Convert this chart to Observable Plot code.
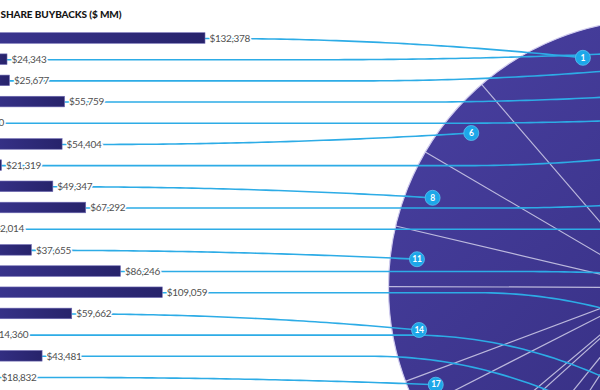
<!DOCTYPE html>
<html><head><meta charset="utf-8">
<script src="https://cdn.jsdelivr.net/npm/d3@7"></script>
<script src="https://cdn.jsdelivr.net/npm/@observablehq/plot@0.6"></script>
<style>
html,body{margin:0;padding:0;background:#fff;overflow:hidden;width:600px;height:390px;}
#chart svg{display:block;}
#chart text{paint-order:stroke;}
</style></head><body><div id="chart"></div>
<script>
// ---- data ----
const title = "SHARE BUYBACKS ($ MM)";
const ranks = [1,2,3,4,5,6,7,8,9,10,11,12,13,14,15,16,17];
const buybacks = [132378, 24343, 25677, 55759, 4100, 54404, 21319, 49347, 67292, 12014, 37655, 86246, 109059, 59662, 14360, 43481, 18832];
// companies listed below the cropped area: only their pie slices are visible
const otherBuybacks = [37500, 5800, 26000, 17300, 46000, 44000, 45000];
// pie order, clockwise from the top
const pieOrder = ["r2","r3","r4","r5","r7","r9","r10","r12","r13","r15","r16",
                  "o7","o6","o5","o4","o3","o2","o1",
                  "r17","r14","r11","r8","r6","r1"];

// ---- layout ----
const W = 600, H = 390;
const PIE = {cx: 656, cy: 287, r: 268, startDeg: 84.8};
const BUBBLE_RING = 0.9, BEND = 370, BUBBLE_R = 7.5;
const xOpts = {type: "linear", domain: [0, d3.max(buybacks)], range: [-37.6, 205]};
const yOpts = {type: "linear", domain: [1, 17], range: [38, 377]};
const xs = Plot.scale({x: xOpts});
const ys = Plot.scale({y: yOpts});
const fmt = d3.format(",");

const rows = ranks.map((rank, i) => ({key: "r" + rank, rank, value: buybacks[i]}));
const others = otherBuybacks.map((value, i) => ({key: "o" + (i + 1), value}));
const byKey = new Map([...rows, ...others].map(d => [d.key, d]));
const total = d3.sum(buybacks) + d3.sum(otherBuybacks);

// pie slices
let cum = 0;
const slices = pieOrder.map(k => {
  const d = byKey.get(k);
  const a0 = PIE.startDeg - cum / total * 360;
  cum += d.value;
  const a1 = PIE.startDeg - cum / total * 360;
  return {...d, a0, a1, mid: (a0 + a1) / 2};
});
const rad = a => a * Math.PI / 180;
const px = (a, f) => [PIE.cx + f * PIE.r * Math.cos(rad(a)), PIE.cy - f * PIE.r * Math.sin(rad(a))];
const center = {x: xs.invert(PIE.cx), y: ys.invert(PIE.cy)};
const edges = slices.map(s => {
  const [ex, ey] = px(s.a0, 1);
  return {x1: center.x, y1: center.y, x2: xs.invert(ex), y2: ys.invert(ey)};
});

// bubbles and connectors
const bubbles = slices.filter(s => s.rank).map(s => {
  const [bx, by] = px(s.mid, BUBBLE_RING);
  return {...s, bx, by};
});
// number labels only for bubbles whose centre falls inside the picture
const shownBubbles = bubbles.filter(b => b.bx < W && b.by < H);
const connectors = [];
for (const b of bubbles) {
  const x0 = xs.apply(b.value), y0 = ys.apply(b.rank);
  const a = Math.max(x0, b.bx - BEND);
  connectors.push({rank: b.rank, x: xs.invert(x0), y: b.rank});
  for (let t = 0; t <= 1.0001; t += 1 / 60) {
    connectors.push({rank: b.rank, x: xs.invert(a + t * (b.bx - a)), y: ys.invert(y0 + t * t * (b.by - y0))});
  }
}

const font = "Lato, Roboto, sans-serif";
const svg = Plot.plot({
  width: W, height: H,
  marginTop: 0, marginRight: 0, marginBottom: 0, marginLeft: 0,
  x: {...xOpts, axis: null},
  y: {...yOpts, axis: null},
  style: {background: "white", fontFamily: font, overflow: "hidden"},
  marks: [
    Plot.dot([center], {x: "x", y: "y", r: PIE.r, fill: "url(#pieGrad)", stroke: "#cfcbee", strokeWidth: 1.2}),
    Plot.link(edges, {x1: "x1", y1: "y1", x2: "x2", y2: "y2", stroke: "#e6e4f7", strokeOpacity: 0.75, strokeWidth: 1.2}),
    Plot.line(connectors, {x: "x", y: "y", z: "rank", stroke: "#2dace6", strokeWidth: 1.6}),
    Plot.rect(rows, {x1: 0, x2: "value", y1: d => d.rank - 0.25, y2: d => d.rank + 0.25,
      fill: "url(#barGrad)", stroke: "#6e6ab3", strokeWidth: 0.6}),
    Plot.text(rows, {x: "value", y: "rank", text: d => "$" + fmt(d.value), textAnchor: "start", dx: 4,
      fill: "#505050", stroke: "white", strokeWidth: 3, fontSize: 10, fontFamily: font, className: "vlabel"}),
    Plot.dot(bubbles, {x: d => xs.invert(d.bx), y: d => ys.invert(d.by), r: BUBBLE_R, fill: "#1da7e9", stroke: "#5cc3f1", strokeWidth: 0.8}),
    Plot.text(shownBubbles, {x: d => xs.invert(d.bx), y: d => ys.invert(d.by), text: d => String(d.rank),
      fill: "white", fontWeight: "bold", fontSize: 8.5, fontFamily: font, className: "blabel"}),
    Plot.text([title], {frameAnchor: "top-left", lineAnchor: "top", dy: 10, text: d => d,
      fill: "#151515", fontWeight: 900, fontSize: 10, fontFamily: font, className: "ttl"})
  ]
});
d3.select(svg).insert("defs", ":first-child").html(`
  <linearGradient id="pieGrad" x1="0" y1="0" x2="1" y2="1">
    <stop offset="0" stop-color="#4a41a3"/><stop offset="1" stop-color="#2b2570"/>
  </linearGradient>
  <linearGradient id="barGrad" x1="0" y1="0" x2="1" y2="0">
    <stop offset="0" stop-color="#3d3895"/><stop offset="1" stop-color="#27236b"/>
  </linearGradient>`);
svg.querySelectorAll(".vlabel text, .blabel text").forEach(t => t.style.letterSpacing = "-0.3px");
svg.querySelectorAll(".ttl text").forEach(t => t.style.letterSpacing = "-0.1px");
document.getElementById("chart").append(svg);
</script></body></html>
